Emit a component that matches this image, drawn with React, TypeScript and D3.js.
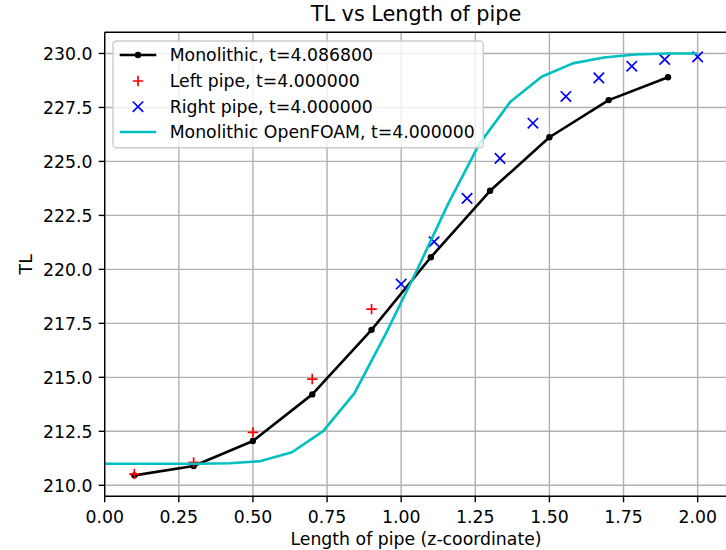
import React from "react";
import * as d3 from "d3";

const monoX = [0.1, 0.3, 0.5, 0.7, 0.9, 1.1, 1.3, 1.5, 1.7, 1.9];
const monoY = [210.46, 210.89, 212.05, 214.21, 217.2, 220.56, 223.64, 226.12, 227.84, 228.9];

const leftX = [0.1, 0.3, 0.5, 0.7, 0.9];
const leftY = [210.52, 211.06, 212.45, 214.92, 218.16];

const rightX = [1.0, 1.1111, 1.2222, 1.3333, 1.4444, 1.5556, 1.6667, 1.7778, 1.8889, 2.0];
const rightY = [219.32, 221.28, 223.29, 225.14, 226.77, 228.01, 228.87, 229.41, 229.72, 229.84];

const foamX = [0, 0.1053, 0.2105, 0.3158, 0.4211, 0.5263, 0.6316, 0.7368, 0.8421, 0.9474, 1.0526, 1.1579, 1.2632, 1.3684, 1.4737, 1.5789, 1.6842, 1.7895, 1.8947, 2.0];
const foamY = [211.0, 211.0, 211.0, 211.0, 211.02, 211.12, 211.53, 212.51, 214.26, 217.0, 219.95, 223.02, 225.8, 227.76, 228.92, 229.54, 229.81, 229.95, 230.0, 230.0];

const xTicks = [0, 0.25, 0.5, 0.75, 1.0, 1.25, 1.5, 1.75, 2.0];
const yTicks = [210, 212.5, 215, 217.5, 220, 222.5, 225, 227.5, 230];

const legendLabels = [
  "Monolithic, t=4.086800",
  "Left pipe, t=4.000000",
  "Right pipe, t=4.000000",
  "Monolithic OpenFOAM, t=4.000000",
];

const W = 726;
const H = 550;
const L = 104.7;
const R = 727.3;
const T = 32.3;
const B = 496.3;
const FONT = "DejaVu Sans, sans-serif";

export default function App() {
  const x = d3.scaleLinear().domain([0, 2.1]).range([L, R]);
  const y = d3.scaleLinear().domain([209.49, 230.98]).range([B, T]);
  const line = d3
    .line<[number, number]>()
    .x((d) => x(d[0]))
    .y((d) => y(d[1]));
  const monoPts: [number, number][] = monoX.map((v, i) => [v, monoY[i]]);
  const foamPts: [number, number][] = foamX.map((v, i) => [v, foamY[i]]);
  const grid = "#b0b0b0";
  const ms = 5.2;

  const plus = (cx: number, cy: number, key: string) => (
    <path key={key} d={`M${cx - ms},${cy}H${cx + ms}M${cx},${cy - ms}V${cy + ms}`} stroke="red" strokeWidth={1.7} fill="none" />
  );
  const cross = (cx: number, cy: number, key: string) => (
    <path key={key} d={`M${cx - ms},${cy - ms}L${cx + ms},${cy + ms}M${cx - ms},${cy + ms}L${cx + ms},${cy - ms}`} stroke="blue" strokeWidth={1.7} fill="none" />
  );

  const rowY = [55, 81, 106.7, 132];

  return (
    <svg width={W} height={H} style={{ position: "absolute", left: 0, top: 0, background: "white" }} fontFamily={FONT}>
      <rect x={0} y={0} width={W} height={H} fill="white" />
      <defs>
        <clipPath id="plotclip">
          <rect x={L} y={T} width={R - L} height={B - T} />
        </clipPath>
      </defs>
      {/* grid */}
      {xTicks.map((t) => (
        <line key={"gx" + t} x1={x(t)} x2={x(t)} y1={T} y2={B} stroke={grid} strokeWidth={1.4} />
      ))}
      {yTicks.map((t) => (
        <line key={"gy" + t} x1={L} x2={R} y1={y(t)} y2={y(t)} stroke={grid} strokeWidth={1.4} />
      ))}
      <g clipPath="url(#plotclip)">
        <path d={line(monoPts) || ""} stroke="black" strokeWidth={2.6} fill="none" strokeLinejoin="round" />
        {monoPts.map((p, i) => (
          <circle key={"m" + i} cx={x(p[0])} cy={y(p[1])} r={3.2} fill="black" />
        ))}
        {leftX.map((v, i) => plus(x(v), y(leftY[i]), "l" + i))}
        {rightX.map((v, i) => cross(x(v), y(rightY[i]), "r" + i))}
        <path d={line(foamPts) || ""} stroke="#00bfbf" strokeWidth={2.6} fill="none" strokeLinejoin="round" />
      </g>
      {/* spines */}
      <line x1={L} x2={L} y1={T} y2={B} stroke="black" strokeWidth={1.4} />
      <line x1={L} x2={R} y1={B} y2={B} stroke="black" strokeWidth={1.4} />
      <line x1={L} x2={R} y1={T} y2={T} stroke="black" strokeWidth={1.4} />
      <line x1={R} x2={R} y1={T} y2={B} stroke="black" strokeWidth={1.4} />
      {/* x ticks */}
      {xTicks.map((t) => (
        <g key={"xt" + t}>
          <line x1={x(t)} x2={x(t)} y1={B} y2={B + 6} stroke="black" strokeWidth={1.4} />
          <text x={x(t)} y={523.3} textAnchor="middle" fontSize={17.3} fill="black">
            {t.toFixed(2)}
          </text>
        </g>
      ))}
      {/* y ticks */}
      {yTicks.map((t) => (
        <g key={"yt" + t}>
          <line x1={L - 6} x2={L} y1={y(t)} y2={y(t)} stroke="black" strokeWidth={1.4} />
          <text x={92.5} y={y(t) + 6.3} textAnchor="end" fontSize={17.3} fill="black">
            {t.toFixed(1)}
          </text>
        </g>
      ))}
      <text x={(L + R) / 2} y={545} textAnchor="middle" fontSize={17.3} fill="black">
        Length of pipe (z-coordinate)
      </text>
      <text transform={`translate(31.5,${(T + B) / 2}) rotate(-90)`} textAnchor="middle" fontSize={17.3} fill="black">
        TL
      </text>
      <text x={(L + R) / 2} y={21} textAnchor="middle" fontSize={20.8} fill="black">
        TL vs Length of pipe
      </text>
      {/* legend */}
      <rect x={113} y={41} width={370.3} height={106.7} rx={3.5} ry={3.5} fill="white" fillOpacity={0.8} stroke="#cccccc" strokeWidth={1.4} />
      <line x1={119.7} x2={156.3} y1={rowY[0]} y2={rowY[0]} stroke="black" strokeWidth={2.6} />
      <circle cx={138} cy={rowY[0]} r={3.2} fill="black" />
      {plus(138, rowY[1], "lg1")}
      {cross(138, rowY[2], "lg2")}
      <line x1={119.7} x2={156.3} y1={rowY[3]} y2={rowY[3]} stroke="#00bfbf" strokeWidth={2.6} />
      {legendLabels.map((s, i) => (
        <text key={"lt" + i} x={169.7} y={rowY[i] + 6.2} fontSize={17.3} fill="black">
          {s}
        </text>
      ))}
    </svg>
  );
}
